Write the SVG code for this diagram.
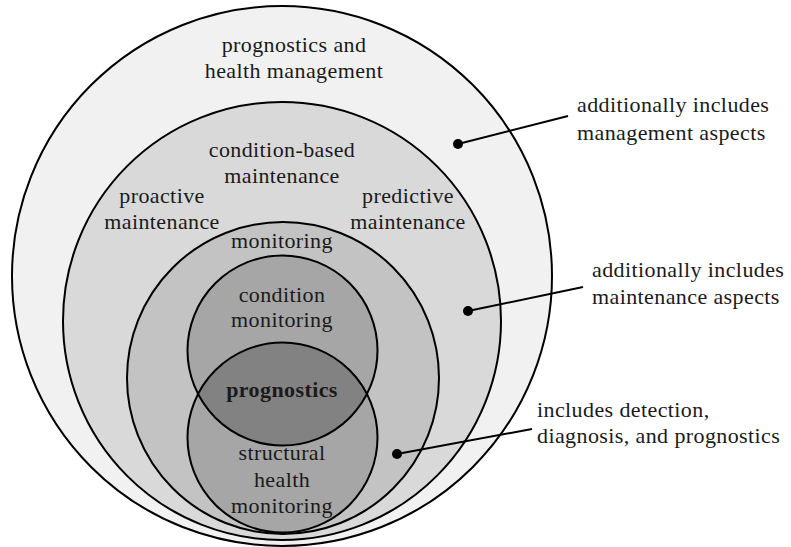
<svg xmlns="http://www.w3.org/2000/svg" width="791" height="547" viewBox="0 0 791 547">
<style>
text{font-family:"Liberation Serif","Times New Roman",serif;font-size:22px;fill:#1a1a1a;letter-spacing:0.4px}
.c{text-anchor:middle}
.ring{stroke:#000;stroke-width:2}
.conn{stroke:#000;stroke-width:2;fill:none}
.dot{fill:#000}
</style>
<defs>
<clipPath id="cmClip"><circle cx="282.5" cy="350.5" r="95"/></clipPath>
</defs>
<rect width="791" height="547" fill="#fff"/>
<g id="phm">
<circle class="ring" cx="282" cy="276" r="270" fill="#f1f1f1"/>
<text class="c" x="294" y="52">prognostics and</text>
<text class="c" x="294" y="78">health management</text>
</g>
<g id="cbm">
<circle class="ring" cx="282" cy="321" r="219" fill="#d9d9d9"/>
<text class="c" x="282" y="157">condition-based</text>
<text class="c" x="282" y="183">maintenance</text>
</g>
<g id="proactive">
<text class="c" x="162" y="203">proactive</text>
<text class="c" x="162" y="229">maintenance</text>
</g>
<g id="predictive">
<text class="c" x="408" y="203">predictive</text>
<text class="c" x="408" y="229">maintenance</text>
</g>
<g id="monitoring">
<circle class="ring" cx="283" cy="378" r="156" fill="#c3c3c3"/>
<text class="c" x="282" y="248">monitoring</text>
</g>
<g id="cm">
<circle cx="282.5" cy="350.5" r="95" fill="#a6a6a6"/>
</g>
<g id="shm">
<circle cx="282.5" cy="437.5" r="95" fill="#a6a6a6"/>
<circle cx="282.5" cy="437.5" r="95" fill="#828282" clip-path="url(#cmClip)"/>
<circle class="ring" cx="282.5" cy="437.5" r="95" fill="none"/>
<text class="c" x="282" y="460">structural</text>
<text class="c" x="282" y="487">health</text>
<text class="c" x="282" y="513">monitoring</text>
</g>
<g id="cm-outline">
<circle class="ring" cx="282.5" cy="350.5" r="95" fill="none"/>
<text class="c" x="282" y="302">condition</text>
<text class="c" x="282" y="327">monitoring</text>
</g>
<g id="prognostics">
<text class="c" x="282" y="397" font-weight="bold">prognostics</text>
</g>
<g id="connectors">
<line class="conn" x1="458" y1="144" x2="568" y2="116"/>
<circle class="dot" cx="458" cy="144" r="5"/>
<line class="conn" x1="468" y1="311" x2="583" y2="287"/>
<circle class="dot" cx="468" cy="311" r="5"/>
<line class="conn" x1="397" y1="454" x2="532" y2="429"/>
<circle class="dot" cx="397" cy="454" r="5"/>
</g>
<g id="note-management">
<text x="577" y="112">additionally includes</text>
<text x="577" y="140">management aspects</text>
</g>
<g id="note-maintenance">
<text x="592" y="277">additionally includes</text>
<text x="592" y="304">maintenance aspects</text>
</g>
<g id="note-detection">
<text x="537" y="417">includes detection,</text>
<text x="537" y="443">diagnosis, and prognostics</text>
</g>
</svg>
